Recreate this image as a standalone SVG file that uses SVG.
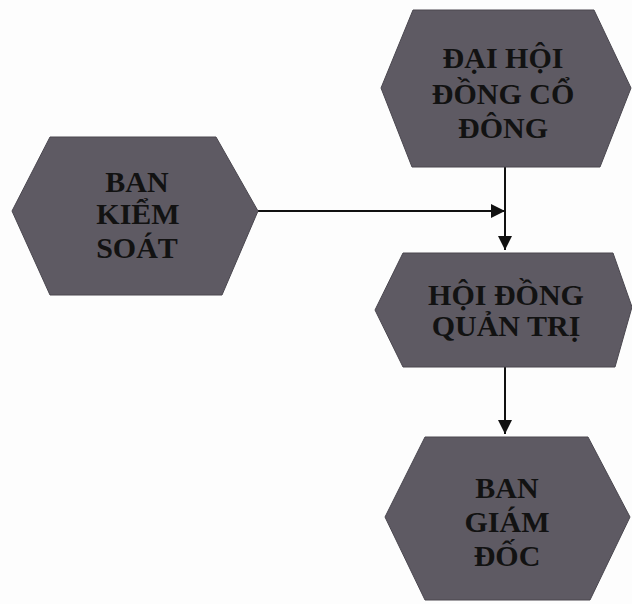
<svg xmlns="http://www.w3.org/2000/svg" width="632" height="604" viewBox="0 0 632 604">
<defs>
<style>
.hex{fill:#5e5a63;stroke:#4a474f;stroke-width:1}
.lbl{font-family:"Liberation Serif","DejaVu Serif",serif;font-weight:bold;font-size:30px;fill:#121212;text-anchor:middle}
.conn{stroke:#111;stroke-width:2;fill:none}
</style>
<marker id="arr" markerUnits="userSpaceOnUse" markerWidth="15" markerHeight="14" refX="14" refY="7" orient="auto">
<path d="M0,0 L14,7 L0,14 Z" fill="#111"/>
</marker>
</defs>
<rect width="632" height="604" fill="#fdfdfd"/>
<g id="connectors">
<line class="conn" x1="505" y1="167" x2="505" y2="250" marker-end="url(#arr)"/>
<line class="conn" x1="258" y1="211" x2="505" y2="211" marker-end="url(#arr)"/>
<line class="conn" x1="505" y1="367" x2="505" y2="434" marker-end="url(#arr)"/>
</g>
<g id="dai-hoi-dong-co-dong">
<polygon class="hex" points="413,10 594,10 631,88 600,167 412,167 381,88"/>
<text class="lbl" x="503" y="68">ĐẠI HỘI</text>
<text class="lbl" x="503" y="104">ĐỒNG CỔ</text>
<text class="lbl" x="503" y="138">ĐÔNG</text>
</g>
<g id="ban-kiem-soat">
<polygon class="hex" points="50,137 216,137 258,211 222,295 50,295 12,211"/>
<text class="lbl" x="137" y="192">BAN</text>
<text class="lbl" x="138" y="224">KIỂM</text>
<text class="lbl" x="137" y="258">SOÁT</text>
</g>
<g id="hoi-dong-quan-tri">
<polygon class="hex" points="403,253 613,253 632,307 615,367 403,367 375,310"/>
<text class="lbl" x="506" y="305">HỘI ĐỒNG</text>
<text class="lbl" x="506" y="336">QUẢN TRỊ</text>
</g>
<g id="ban-giam-doc">
<polygon class="hex" points="425,437 588,437 630,517 590,600 425,600 385,517"/>
<text class="lbl" x="507" y="498">BAN</text>
<text class="lbl" x="507" y="532">GIÁM</text>
<text class="lbl" x="507" y="566">ĐỐC</text>
</g>
</svg>
